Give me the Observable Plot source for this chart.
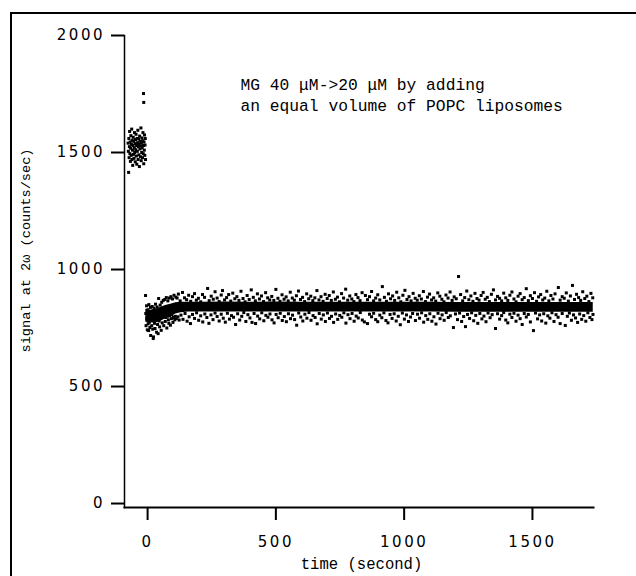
<!DOCTYPE html>
<html>
<head>
<meta charset="utf-8">
<script src="https://cdn.jsdelivr.net/npm/d3@7"></script>
<script src="https://cdn.jsdelivr.net/npm/@observablehq/plot@0.6"></script>
<style>
  html, body { margin: 0; background: #fff; overflow: hidden; }
  #wrap { position: relative; width: 636px; height: 576px; overflow: hidden; background: #fff; }
  #topline { position: absolute; left: 10px; top: 12px; width: 626px; height: 2px; background: #000; pointer-events: none; }
  #leftline { position: absolute; left: 10px; top: 12px; width: 1.5px; height: 564px; background: #000; pointer-events: none; }
  #chart svg g[aria-label$="tick label"] text { letter-spacing: 2.5px; }
</style>
</head>
<body>
<div id="wrap"><div id="chart"></div><div id="topline"></div><div id="leftline"></div></div>
<script>
// Axis ticks
const xTicks = [0, 500, 1000, 1500];
const yTicks = [0, 500, 1000, 1500, 2000];

// Texts
const xTitle = "time (second)";
const yTitle = "signal at 2\u03c9 (counts/sec)";
const note = "MG 40 \u03bcM->20 \u03bcM by adding\nan equal volume of POPC liposomes";

// Before addition (time s, signal counts/sec)
const beforeDots = [
  [-76,1540],[-75,1505],[-74,1415],[-73,1560],[-72,1478],[-71,1525],[-70,1590],[-69,1495],[-68,1545],[-67,1462],
  [-66,1518],[-65,1572],[-64,1488],[-63,1535],[-62,1600],[-61,1470],[-60,1552],[-59,1510],[-58,1445],[-57,1530],
  [-56,1565],[-55,1492],[-54,1548],[-53,1475],[-52,1520],[-51,1585],[-50,1500],[-49,1538],[-48,1460],[-47,1555],
  [-46,1512],[-45,1578],[-44,1485],[-43,1530],[-42,1450],[-41,1560],[-40,1505],[-39,1542],[-38,1595],[-37,1470],
  [-36,1525],[-35,1558],[-34,1490],[-33,1535],[-32,1440],[-31,1570],[-30,1515],[-29,1548],[-28,1482],[-27,1528],
  [-26,1605],[-25,1465],[-24,1540],[-23,1500],[-22,1562],[-21,1520],[-20,1478],[-19,1550],[-18,1585],[-17,1495],
  [-16,1530],[-15,1452],[-14,1545],[-13,1510],[-12,1575],[-11,1488],[-10,1532],[-9,1560],[-8,1470],
  [-16,1752],[-15,1714]
];

// Dense core of the signal after addition
const coreTime = [-7, 10, 30, 50, 70, 90, 110, 130, 160, 200, 300, 400, 500, 600, 700, 800, 900, 1000, 1100, 1200, 1300, 1400, 1500, 1600, 1700, 1737];
const coreLow  = [775, 772, 770, 778, 790, 800, 810, 815, 818, 818, 818, 818, 818, 818, 818, 818, 818, 818, 818, 817, 817, 817, 817, 817, 817, 817];
const coreHigh = [830, 826, 830, 838, 846, 852, 858, 860, 860, 860, 861, 860, 861, 860, 860, 860, 860, 860, 860, 859, 859, 859, 859, 859, 859, 859];

// Early points right after addition
const earlyDots = [
  [-8,889],[-7,812],[-6,760],[-4,845],[-3,790],[-1,742],[1,828],[2,768],[4,739],[5,850],[7,775],[9,752],[11,838],
  [12,718],[14,795],[16,760],[18,842],[20,745],[22,705],[23,712],[25,835],[27,770],[29,748],[31,852],[33,790],
  [35,732],[37,840],[39,765],[41,726],[43,876],[45,780],[47,755],[49,848],[51,792],[53,740],[55,860],[57,772],
  [59,805],[61,868],[63,760],[65,812],[67,872],[69,778],[71,795],[73,880],[75,750],[77,800],[79,866],[81,785],
  [83,770],[85,878],[87,802],[89,762],[91,884],[93,790],[95,808],[97,874],[99,774],[101,795],[103,890],[106,785],
  [108,800],[110,882],[112,790],[115,878],[118,798],[120,895],[123,784]
];

// Scattered points above the core
const upperDots = [
  [127,866],[136,902],[144,879],[152,871],[160,890],[168,864],[175,884],[183,897],[190,869],[198,877],[207,862],
  [214,893],[222,881],[234,919],[240,867],[248,886],[256,873],[263,905],[271,878],[279,863],[287,891],[292,910],
  [300,870],[308,880],[316,893],[324,865],[332,899],[340,875],[348,884],[356,868],[364,907],[372,876],[380,862],
  [388,889],[396,872],[404,913],[412,881],[420,866],[428,896],[436,874],[444,887],[452,863],[460,901],[468,879],
  [476,870],[484,885],[492,868],[500,915],[508,877],[516,864],[524,892],[532,873],[540,883],[548,866],[556,903],
  [564,878],[572,869],[580,888],[588,908],[596,872],[604,881],[612,863],[620,896],[628,875],[636,886],[644,867],
  [652,879],[660,910],[668,870],[676,884],[684,864],[692,894],[700,876],[708,889],[716,868],[724,904],[732,873],
  [740,882],[748,862],[756,897],[764,878],[772,916],[780,869],[788,887],[796,874],[804,863],[812,893],[820,880],
  [828,867],[836,901],[849,889],[857,871],[865,884],[873,906],[881,866],[889,878],[897,892],[905,870],[915,927],
  [923,881],[931,864],[939,896],[947,875],[955,887],[963,868],[971,903],[979,879],[987,862],[995,890],[1003,911],
  [1011,872],[1019,884],[1027,866],[1035,898],[1043,877],[1051,869],[1059,888],[1067,874],[1075,906],[1083,863],
  [1091,882],[1099,895],[1107,870],[1115,879],[1123,865],[1131,900],[1139,886],[1147,873],[1155,862],[1163,891],
  [1171,878],[1179,904],[1187,868],[1195,883],[1203,875],[1212,970],[1220,893],[1228,866],[1236,880],[1244,908],
  [1252,871],[1260,887],[1268,864],[1276,898],[1284,876],[1292,869],[1300,889],[1308,902],[1316,873],[1324,881],
  [1332,863],[1340,894],[1348,913],[1356,870],[1364,885],[1372,877],[1380,866],[1388,899],[1396,879],[1404,868],
  [1412,890],[1420,904],[1428,874],[1436,862],[1444,886],[1452,897],[1460,871],[1468,880],[1476,918],[1484,867],
  [1492,888],[1500,876],[1508,901],[1516,864],[1524,883],[1532,893],[1540,870],[1548,878],[1556,907],[1564,866],
  [1572,889],[1580,874],[1588,896],[1601,923],[1608,869],[1616,884],[1624,877],[1632,900],[1640,865],[1648,887],
  [1656,932],[1664,872],[1672,894],[1680,880],[1688,868],[1696,905],[1704,876],[1712,886],[1720,863],[1728,898],[1735,879]
];

// Scattered points below the core
const lowerDots = [
  [130,805],[138,787],[146,812],[154,779],[162,798],[167,769],[175,808],[183,791],[191,815],[199,783],[207,802],
  [215,776],[223,810],[231,795],[239,770],[247,806],[255,786],[263,814],[271,799],[279,780],[287,809],[295,792],
  [303,775],[311,813],[319,788],[327,803],[335,796],[343,765],[351,811],[359,784],[367,800],[375,816],[383,778],
  [391,807],[399,793],[407,774],[415,812],[421,769],[429,801],[437,789],[445,815],[453,781],[461,804],[469,796],
  [477,810],[485,785],[493,772],[501,808],[509,794],[517,813],[525,782],[533,799],[541,777],[549,811],[557,790],
  [565,805],[573,786],[581,762],[589,814],[597,797],[605,780],[613,809],[621,792],[629,816],[637,783],[645,803],
  [653,795],[661,768],[669,812],[677,788],[685,806],[693,778],[701,814],[709,791],[717,800],[725,774],[733,810],
  [741,787],[749,804],[757,796],[765,815],[773,771],[781,807],[789,790],[797,812],[805,779],[813,801],[821,793],
  [829,816],[837,784],[845,776],[857,769],[865,809],[873,798],[881,813],[889,786],[897,777],[905,805],[913,794],
  [921,815],[929,782],[937,772],[945,808],[953,791],[961,811],[969,780],[977,800],[985,764],[993,814],[1001,788],
  [1009,806],[1017,778],[1025,797],[1033,812],[1044,782],[1052,809],[1060,792],[1068,815],[1076,775],[1084,803],
  [1092,787],[1100,811],[1108,779],[1116,798],[1124,767],[1132,813],[1140,790],[1148,806],[1156,783],[1164,816],
  [1172,795],[1180,802],[1192,752],[1200,810],[1208,786],[1216,814],[1224,778],[1232,799],[1239,756],[1247,808],
  [1255,791],[1263,815],[1271,781],[1279,804],[1287,770],[1295,812],[1303,789],[1311,801],[1319,777],[1327,814],
  [1335,794],[1343,807],[1356,748],[1364,811],[1372,788],[1380,803],[1388,816],[1396,784],[1404,772],[1412,809],
  [1420,795],[1428,813],[1436,779],[1444,805],[1452,790],[1460,765],[1468,812],[1476,797],[1484,808],[1492,776],
  [1504,739],[1512,814],[1520,789],[1528,806],[1536,780],[1544,811],[1552,771],[1560,802],[1568,792],[1576,815],
  [1584,778],[1592,807],[1600,796],[1608,769],[1616,812],[1628,761],[1636,800],[1644,814],[1652,783],[1660,806],
  [1668,793],[1676,774],[1684,810],[1692,787],[1700,803],[1708,779],[1716,815],[1724,795],[1732,786],[1736,808]
];

const core = coreTime.map((t, i) => ({t, lo: coreLow[i], hi: coreHigh[i]}));
const allDots = [...beforeDots, ...earlyDots, ...upperDots, ...lowerDots];
const mono = "'Liberation Mono', 'Courier New', monospace";

const chart = Plot.plot({
  width: 636,
  height: 576,
  marginLeft: 124,
  marginRight: 43,
  marginTop: 35,
  marginBottom: 69,
  x: {domain: [-90, 1738]},
  y: {domain: [-17, 2000]},
  style: {fontFamily: "'DejaVu Sans', sans-serif", fontSize: "15px", color: "#000", background: "transparent"},
  marks: [
    Plot.areaY(core, {x: "t", y1: "lo", y2: "hi", fill: "#000"}),
    Plot.dot(allDots, {x: d => d[0], y: d => d[1], symbol: "square", r: 1.7, fill: "#000", stroke: "none"}),
    Plot.frame({anchor: "left", stroke: "#000", strokeWidth: 1.5}),
    Plot.frame({anchor: "bottom", stroke: "#000", strokeWidth: 2}),
    Plot.axisX({ticks: xTicks, tickSize: 13, tickPadding: 16, strokeWidth: 2, tickFormat: d3.format("d"), label: null}),
    Plot.axisY({ticks: yTicks, tickSize: 13, tickPadding: 6.5, strokeWidth: 2, tickFormat: d3.format("d"), label: null}),
    Plot.text([xTitle], {text: d => d, frameAnchor: "bottom", textAnchor: "middle", dx: 2.5, dy: 61, fontFamily: mono, fontSize: 15.6}),
    Plot.text([yTitle], {text: d => d, frameAnchor: "left", textAnchor: "middle", rotate: -90, dx: -99, dy: -21, fontFamily: mono, fontSize: 13.6}),
    Plot.text([{t: 362, v: 1750, label: note}], {x: "t", y: "v", text: "label", textAnchor: "start", lineHeight: 1.27, fontFamily: mono, fontSize: 16.3})
  ]
});
document.getElementById("chart").appendChild(chart);
</script>
</body>
</html>
